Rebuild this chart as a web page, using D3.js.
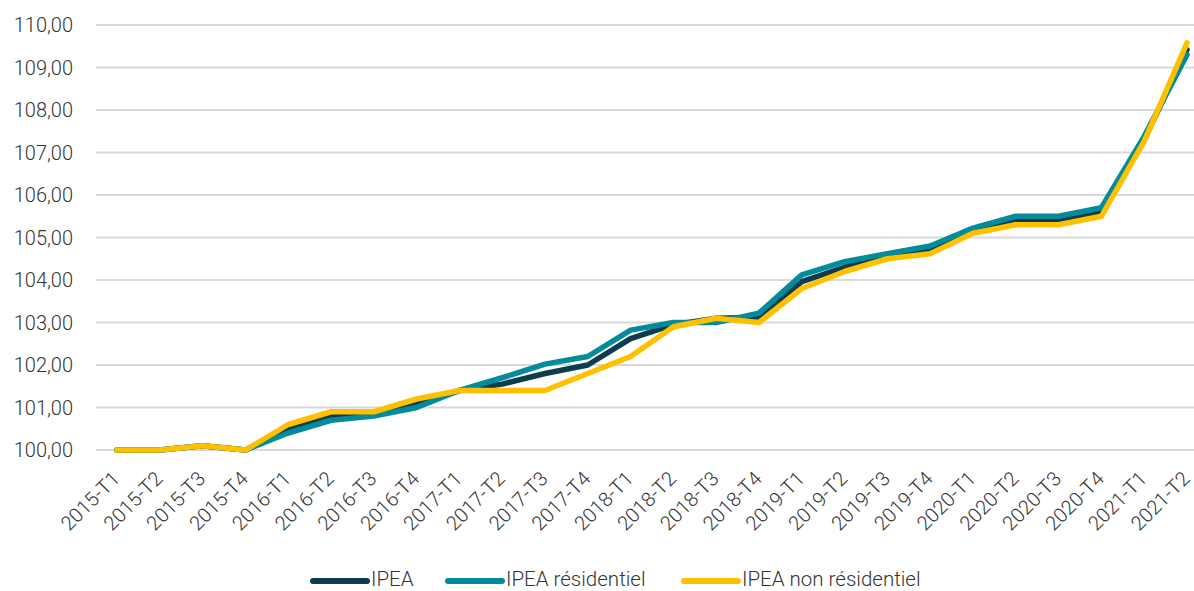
<!DOCTYPE html>
<html>
<head>
<meta charset="utf-8">
<script src="https://cdn.jsdelivr.net/npm/d3@7"></script>
<style>
  body { margin: 0; background: #fff; }
  svg text { font-family: Roboto, "Open Sans", sans-serif; fill: #333; }
</style>
</head>
<body>
<svg id="chart" width="1194" height="591"></svg>
<script>
var quarters = [
  "2015-T1", "2015-T2", "2015-T3", "2015-T4",
  "2016-T1", "2016-T2", "2016-T3", "2016-T4",
  "2017-T1", "2017-T2", "2017-T3", "2017-T4",
  "2018-T1", "2018-T2", "2018-T3", "2018-T4",
  "2019-T1", "2019-T2", "2019-T3", "2019-T4",
  "2020-T1", "2020-T2", "2020-T3", "2020-T4",
  "2021-T1", "2021-T2"
];

var ipea = [
  100.0, 100.0, 100.1, 100.0,
  100.5, 100.8, 100.85, 101.1,
  101.4, 101.55, 101.8, 102.0,
  102.62, 102.95, 103.1, 103.12,
  103.96, 104.3, 104.6, 104.72,
  105.2, 105.42, 105.42, 105.6,
  107.3, 109.42
];

var ipeaResidentiel = [
  100.0, 100.0, 100.1, 100.0,
  100.4, 100.7, 100.8, 101.0,
  101.4, 101.7, 102.02, 102.2,
  102.82, 103.0, 103.0, 103.22,
  104.12, 104.43, 104.62, 104.8,
  105.22, 105.5, 105.5, 105.7,
  107.38, 109.3
];

var ipeaNonResidentiel = [
  100.0, 100.0, 100.1, 100.0,
  100.6, 100.9, 100.9, 101.2,
  101.4, 101.4, 101.4, 101.8,
  102.2, 102.9, 103.1, 103.0,
  103.8, 104.2, 104.5, 104.62,
  105.1, 105.3, 105.3, 105.5,
  107.26, 109.58
];

var yTicks = [100, 101, 102, 103, 104, 105, 106, 107, 108, 109, 110];

var series = [
  { name: "IPEA", values: ipea, color: "#0d3c4e" },
  { name: "IPEA résidentiel", values: ipeaResidentiel, color: "#028b9b" },
  { name: "IPEA non résidentiel", values: ipeaNonResidentiel, color: "#ffc000" }
];

var svg = d3.select("#chart");

var x = d3.scalePoint().domain(quarters).range([117, 1187]);
var y = d3.scaleLinear().domain([100, 110]).range([450, 25]);

var fr = d3.formatLocale({ decimal: ",", thousands: " ", grouping: [3], currency: ["", " €"] });
var fmt = fr.format(".2f");

// horizontal grid
svg.append("g").selectAll("line")
  .data(yTicks)
  .enter().append("line")
  .attr("x1", 96).attr("x2", 1194)
  .attr("y1", function (d) { return y(d); })
  .attr("y2", function (d) { return y(d); })
  .attr("stroke", "#d9d9d9")
  .attr("stroke-width", 2);

// y axis labels
svg.append("g").selectAll("text")
  .data(yTicks)
  .enter().append("text")
  .attr("x", 73)
  .attr("y", function (d) { return y(d); })
  .attr("dy", "0.35em")
  .attr("text-anchor", "end")
  .style("font-size", "20px")
  .style("font-weight", 300)
  .text(function (d) { return fmt(d); });

// x axis labels, rotated 45 degrees, ending just right of the tick
svg.append("g").selectAll("text")
  .data(quarters)
  .enter().append("text")
  .attr("transform", function (d) { return "translate(" + (x(d) + 4) + ",480) rotate(-45)"; })
  .attr("text-anchor", "end")
  .style("font-size", "20px")
  .style("font-weight", 300)
  .text(function (d) { return d; });

var line = d3.line()
  .x(function (d, i) { return x(quarters[i]); })
  .y(function (d) { return y(d); });

svg.append("g").selectAll("path")
  .data(series)
  .enter().append("path")
  .attr("d", function (s) { return line(s.values); })
  .attr("fill", "none")
  .attr("stroke", function (s) { return s.color; })
  .attr("stroke-width", 5.5)
  .attr("stroke-linejoin", "round")
  .attr("stroke-linecap", "round");

// legend
var legendX = [313, 448, 684];
var legend = svg.append("g").selectAll("g")
  .data(series)
  .enter().append("g")
  .attr("transform", function (s, i) { return "translate(" + legendX[i] + ",579)"; });

legend.append("line")
  .attr("x1", 0).attr("x2", 54)
  .attr("y1", 2).attr("y2", 2)
  .attr("stroke", function (s) { return s.color; })
  .attr("stroke-width", 6)
  .attr("stroke-linecap", "round");

legend.append("text")
  .attr("x", 58)
  .attr("dy", "0.35em")
  .style("font-size", "20.5px")
  .style("font-weight", 300)
  .text(function (s) { return s.name; });
</script>
</body>
</html>
